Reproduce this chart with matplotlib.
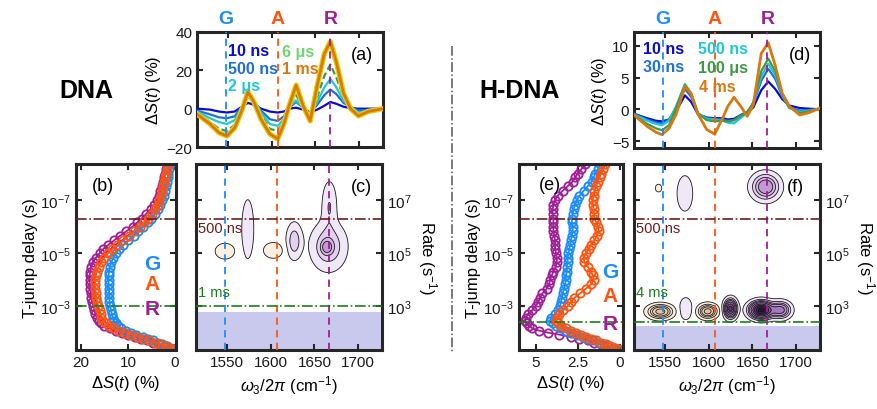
import numpy as np
import matplotlib
matplotlib.use("Agg")
import matplotlib.pyplot as plt
import matplotlib.patheffects as pe
from matplotlib.lines import Line2D
from matplotlib.ticker import NullLocator

plt.rcParams['font.family'] = ['Liberation Sans', 'DejaVu Sans']
plt.rcParams['mathtext.fontset'] = 'custom'
plt.rcParams['mathtext.rm'] = 'Liberation Sans'
plt.rcParams['mathtext.it'] = 'Liberation Sans:italic'
plt.rcParams['mathtext.bf'] = 'Liberation Sans:bold'

W, H = 877, 410

# ---- marker positions (cm-1) ----
mode_names = ["G", "A", "R"]
mode_pos = [1548, 1607, 1667]
mode_colors = ["#1a8cff", "#ff5510", "#a01e96"]

# ---- (a) DNA difference spectra ----
wn_a = [1515, 1530, 1540, 1549, 1558, 1566, 1573, 1580, 1588, 1598, 1607, 1614, 1620,
        1628, 1636, 1644, 1652, 1660, 1667, 1674, 1682, 1690, 1699, 1710, 1727]
dna_labels = ["10 ns", "500 ns", "2 μs", "6 μs", "1 ms"]
dna_10ns = [0, -0.5, -1.5, -2, -1.5, 1, 3, 2, 0, -1.5, -2, -1.5, 0, 0.5, -0.5, -2,
            -0.5, 1.5, 3.5, 2.5, 1, 0.3, 0, 0, 0]
dna_500ns = [-1, -3, -4.5, -5, -4, 1, 6, 4, -1, -5.5, -6.4, -4, 0.5, 3.5, 0.5, -2,
             2, 7, 10, 7.5, 3, 1, -1, -0.5, 0]
dna_2us = [-1.5, -5, -7, -8, -6, 1, 7, 4.5, -2, -8, -9, -5.5, 1, 4.3, 0.5, -3,
           3.5, 11, 15.5, 11, 4, 1, -2, -1, 0]
dna_6us = [-2, -7, -10.5, -11.7, -8.5, 0, 8, 4.5, -3.5, -10.5, -11.7, -7, 2, 7, 1,
           -5.2, 6, 17, 23, 16, 6, 0.5, -3, -1.5, 0]
dna_1ms = [-2.8, -8, -12.5, -14.3, -10, -1, 8.7, 3.4, -5.5, -13.2, -15.8, -8, 1.5,
           12.3, 1.4, -6.4, 12, 28.5, 35, 24, 8, 0, -3.8, -1.5, 0]

# ---- (d) H-DNA difference spectra ----
wn_d = [1515, 1530, 1540, 1547, 1555, 1563, 1573, 1580, 1588, 1598, 1607, 1616, 1622,
        1629, 1638, 1644, 1651, 1660, 1668, 1676, 1684, 1692, 1704, 1715, 1727]
hdna_labels = ["10 ns", "30 ns", "500 ns", "100 μs", "4 ms"]
hdna_10ns = [-0.7, -1.4, -1.8, -1.9, -1.6, -0.3, 2.2, 1.2, -0.8, -1.3, -1.4, -1.4, -1.6,
             -1.5, -0.8, -0.5, 0.3, 3, 4.4, 3.2, 1.6, 0.6, 0.2, 0.1, 0]
hdna_30ns = [-0.7, -1.6, -2.1, -2.2, -1.6, 0.3, 3.2, 2, -0.7, -1.4, -1.5, -1.6, -1.8,
             -1.7, -0.8, -0.4, 0.8, 4.5, 6.4, 4.8, 2, 0.3, -0.2, -0.1, 0.1]
hdna_500ns = [-0.8, -1.8, -2.3, -2.5, -1.8, 0.5, 4, 2.6, -0.6, -1.5, -1.6, -1.8, -2.1,
              -2.2, -1.2, -0.6, 1, 5.2, 7.2, 5.4, 2.2, 0.2, -0.4, -0.2, 0.1]
hdna_100us = [-0.9, -2.3, -3, -3.3, -2.5, 0.2, 3.8, 2.5, -0.7, -1.7, -1.9, -1.8, -1.9,
              -1.7, -0.9, -0.5, 1.1, 6, 8, 6, 2.4, 0.3, -0.6, -0.3, 0.1]
hdna_4ms = [-0.9, -2.7, -3.6, -4, -3.0, -0.8, 3.6, 2.5, -0.8, -3.2, -3.9, -1.4, 0.5,
            1.9, 0.2, -1.1, 0.7, 8.8, 10.5, 6.9, 2.5, 0.5, -0.9, -0.5, 0.2]

spec_colors = ["#0a0ad2", "#1f6fd9", "#1ec8d6", "#3f9a45", "#d9780f"]

# ---- (b)/(e) kinetics at G, A, R ----
delays = [4.5e-9, 7e-9, 1e-8, 1.4e-8, 2e-8, 3e-8, 4.5e-8, 7e-8, 1e-7, 1.5e-7, 2.2e-7,
          3.3e-7, 5e-7, 7e-7, 1e-6, 1.5e-6, 2.2e-6, 3.3e-6, 5e-6, 7e-6, 1e-5, 1.5e-5,
          2.2e-5, 3.3e-5, 5e-5, 7e-5, 1e-4, 1.5e-4, 2.2e-4, 3.3e-4, 5e-4, 7e-4, 1e-3,
          1.4e-3, 2e-3, 2.8e-3, 3.6e-3, 4.5e-3, 5.5e-3, 7e-3, 8.5e-3, 1e-2, 1.2e-2,
          1.45e-2, 1.7e-2, 2e-2, 2.4e-2, 2.8e-2, 3.3e-2, 3.8e-2, 4.3e-2]

dna_G = [1.0, 1.2, 1.4, 1.5, 1.7, 1.9, 2.1, 2.4, 2.7, 3.1, 3.6, 4.2, 5.0, 5.8, 6.7, 7.8,
         8.8, 9.9, 11.0, 11.8, 12.5, 13.1, 13.5, 13.8, 14.0, 14.1, 14.1, 14.1, 14.0, 14.0,
         13.9, 13.9, 13.8, 13.6, 13.4, 13.2, 13.0, 12.6, 12.2, 11.4, 10.4, 9.4, 8.2, 6.9,
         5.8, 4.7, 3.6, 2.7, 1.8, 1.1, 0.5]
dna_A = [1.5, 1.8, 2.0, 2.2, 2.4, 2.6, 2.8, 3.0, 3.3, 3.7, 4.2, 4.9, 5.7, 6.5, 7.4, 8.6,
         9.8, 11.0, 12.3, 13.3, 14.2, 15.0, 15.7, 16.2, 16.6, 16.8, 16.9, 16.9, 16.9, 16.8,
         16.7, 16.5, 16.3, 16.0, 15.8, 15.6, 15.2, 14.7, 14.1, 13.0, 11.8, 10.6, 9.3, 8.0,
         6.8, 5.5, 4.2, 3.1, 2.0, 1.2, 0.5]
dna_R = [1.8, 2.0, 2.2, 2.4, 2.6, 2.8, 3.1, 3.4, 3.8, 4.4, 5.2, 6.1, 7.1, 8.0, 9.0, 10.3,
         11.6, 12.9, 14.2, 15.2, 16.0, 16.8, 17.4, 17.8, 18.0, 18.1, 18.1, 18.1, 18.0, 17.9,
         17.8, 17.6, 17.3, 17.1, 16.9, 16.6, 16.2, 15.7, 15.0, 13.8, 12.5, 11.3, 9.9, 8.5,
         7.3, 6.0, 4.6, 3.4, 2.2, 1.3, 0.6]

hdna_G = [1.15, 1.3, 1.45, 1.55, 1.65, 1.9, 2.15, 2.4, 2.55, 2.65, 2.75, 2.8, 2.85, 2.85,
          2.8, 2.8, 2.85, 2.9, 2.95, 3.0, 3.05, 3.1, 3.1, 3.15, 3.15, 3.2, 3.2, 3.25, 3.3,
          3.4, 3.45, 3.5, 3.55, 3.65, 3.85, 4.1, 4.15, 4.0, 3.8, 3.5, 3.2, 2.9, 2.55, 2.2,
          1.9, 1.6, 1.25, 0.95, 0.65, 0.35, 0.1]
hdna_A = [0.85, 1.0, 1.1, 1.2, 1.3, 1.4, 1.5, 1.55, 1.6, 1.6, 1.55, 1.55, 1.5, 1.4, 1.3,
          1.25, 1.35, 1.5, 1.7, 1.85, 2.0, 2.15, 2.1, 1.9, 1.7, 1.6, 1.55, 1.7, 2.0, 2.35,
          2.7, 2.9, 3.1, 3.35, 3.6, 3.75, 3.8, 3.7, 3.5, 3.2, 2.9, 2.6, 2.3, 2.0, 1.7, 1.4,
          1.1, 0.8, 0.55, 0.3, 0.1]
hdna_R = [2.05, 2.3, 2.5, 2.65, 2.8, 3.1, 3.4, 3.7, 3.85, 3.95, 4.0, 4.0, 3.95, 3.95, 3.95,
          3.95, 3.9, 3.85, 3.85, 3.85, 3.8, 3.75, 3.75, 3.8, 3.95, 4.05, 4.15, 4.2, 4.35,
          4.6, 4.75, 4.85, 5.0, 5.2, 5.45, 5.6, 5.65, 5.55, 5.4, 5.2, 4.8, 4.3, 3.6, 2.9,
          2.4, 1.9, 1.5, 1.1, 0.7, 0.4, 0.1]

# ---- (c)/(f) lifetime maps: blobs (wavenumber, log10 rate, widths, amplitude) ----
c_blob_w = [1548, 1574, 1603, 1627, 1666, 1667, 1664]
c_blob_logr = [5.07, 5.9, 5.1, 5.45, 5.25, 6.8, 5.22]
c_blob_sw = [7.5, 4.6, 7.5, 5.6, 12.5, 5.5, 4.5]
c_blob_sl = [0.2, 0.75, 0.2, 0.42, 0.55, 0.6, 0.18]
c_blob_amp = [-0.3, 0.3, -0.3, 0.45, 0.5, 0.3, 0.45]

f_blob_w = [1543, 1573, 1665, 1545, 1574, 1599, 1625, 1660, 1682]
f_blob_logr = [7.45, 7.25, 7.5, 2.79, 2.9, 2.8, 2.9, 2.85, 2.85]
f_blob_sw = [5, 6.0, 9.6, 8.5, 5.0, 6.5, 4.3, 8, 7]
f_blob_sl = [0.2, 0.45, 0.3, 0.16, 0.28, 0.16, 0.21, 0.19, 0.19]
f_blob_amp = [-0.13, 0.3, 1.0, -1.2, 0.3, -1.2, 2.0, 2.8, 1.2]

dna_marks = [("500 ns", 5e-7, "#6e1b1b"), ("1 ms", 1e-3, "#1b7d1b")]
hdna_marks = [("500 ns", 5e-7, "#6e1b1b"), ("4 ms", 4e-3, "#1b7d1b")]
mark_label_rates = [10 ** 5.94, 10 ** 3.53]
dna_shade_rate = 590
hdna_shade_rate = 180

WLIM = (1515, 1727)
TLIM = (10 ** -1.34, 10 ** -8.36)
RLIM = (10 ** 1.34, 10 ** 8.36)
INK = "#262626"

fig = plt.figure(figsize=(W / 100, H / 100), dpi=100)


def px_axes(x0, y0, x1, y1):
    return fig.add_axes([x0 / W, 1 - y1 / H, (x1 - x0) / W, (y1 - y0) / H])


def ftext(x, y, s, **kw):
    fig.text(x / W, 1 - y / H, s, **kw)


def frame(ax):
    for s in ax.spines.values():
        s.set_linewidth(2.2)
        s.set_color(INK)
    ax.tick_params(direction="in", length=4, width=1.5, top=True, right=True,
                   labelsize=11, color=INK, labelcolor="#1a1a1a")


def spectra(ax, wn, curves, dashed_idx, ylim, yticks, stroke_idx):
    for i, (vals, col) in enumerate(zip(curves, spec_colors)):
        kw = dict(color=col, lw=1.6 if i < 4 else 2.0, zorder=3 + i)
        if i == dashed_idx:
            kw["ls"] = (0, (3, 1.5))
        if i == stroke_idx:
            kw["path_effects"] = [pe.Stroke(linewidth=3.8, foreground="#e6d200"), pe.Normal()]
        ax.plot(wn, vals, **kw)
    for name, m, col in zip(mode_names, mode_pos, mode_colors):
        ax.axvline(m, color=col, lw=1.3, ls=(0, (4, 3)), zorder=10)
        ax.text(m, 1.12, name, color=col, fontsize=14, fontweight="bold",
                ha="center", va="center", transform=ax.get_xaxis_transform())
    ax.set_xlim(*WLIM)
    ax.set_ylim(*ylim)
    ax.set_xticks([1550, 1600, 1650, 1700])
    ax.set_xticklabels([])
    ax.set_yticks(yticks)
    ax.set_ylabel(r"$\Delta S(t)$ (%)", fontsize=12, labelpad=2)
    frame(ax)


def kinetics(ax, curves, xlim, xticks, xticklabels, marks):
    for vals, col in curves:
        ax.plot(vals, delays, "-o", color=col, mfc="none", ms=6, mew=1.3, lw=1.3)
    for _, t, col in marks:
        ax.axhline(t, color=col, lw=1.2, ls="-.", zorder=5)
    ax.set_yscale("log")
    ax.set_ylim(*TLIM)
    ax.set_yticks([1e-7, 1e-5, 1e-3])
    ax.yaxis.set_minor_locator(NullLocator())
    ax.set_xlim(*xlim)
    ax.set_xticks(xticks)
    ax.set_xticklabels(xticklabels)
    ax.set_ylabel("T-jump delay (s)", fontsize=12, labelpad=2)
    ax.set_xlabel(r"$\Delta S(t)$ (%)", fontsize=12, labelpad=3)
    frame(ax)


pos_levels = [0.1, 0.3, 0.5, 0.7, 1.0, 1.4, 1.8, 2.2, 2.6, 3.0, 3.5, 10]
pos_colors = ["#f1e8f7", "#e2d0ee", "#d3b6e2", "#c49ad5", "#a677bd", "#86539d",
              "#63357a", "#432055", "#281032", "#16061c", "#0a000c"]
neg_levels = [-10, -3.5, -3.0, -2.6, -2.2, -1.8, -1.4, -1.0, -0.7, -0.5, -0.3, -0.1]
neg_colors = ["#b07a4a", "#bb8454", "#c68f5f", "#d09b6b", "#d9a878", "#e2b587",
              "#e9c297", "#f0d0aa", "#f5dcbd", "#f9e5cc", "#fdeedd"]


def lifetime_map(ax, bw, bl, bsw, bsl, bamp, marks, shade_rate):
    w = np.linspace(WLIM[0], WLIM[1], 400)
    lr = np.linspace(1.34, 8.36, 400)
    WW, LL = np.meshgrid(w, lr)
    Z = np.zeros_like(WW)
    for w0, l0, sw, sl, a in zip(bw, bl, bsw, bsl, bamp):
        Z += a * np.exp(-0.5 * ((WW - w0) / sw) ** 2 - 0.5 * ((LL - l0) / sl) ** 2)
    RR = 10 ** LL
    ax.contourf(WW, RR, Z, levels=pos_levels, colors=pos_colors, zorder=1)
    ax.contourf(WW, RR, Z, levels=neg_levels, colors=neg_colors, zorder=1)
    ax.contour(WW, RR, Z, levels=neg_levels[1:] + pos_levels[:-1], colors="#1a1a1a",
               linewidths=0.6, linestyles="solid", zorder=2)
    ax.axhspan(RLIM[0], shade_rate, color="#c9c9ee", lw=0, zorder=0.5)
    for name, m, col in zip(mode_names, mode_pos, mode_colors):
        ax.axvline(m, color=col, lw=1.3, ls=(0, (4, 3)), zorder=4)
    for (label, t, col), ry in zip(marks, mark_label_rates):
        ax.axhline(1 / t, color=col, lw=1.2, ls="-.", zorder=5)
        ax.text(1517, ry, label, color=col, fontsize=10.5, ha="left", va="center", zorder=6)
    ax.set_yscale("log")
    ax.set_ylim(*RLIM)
    ax.set_yticks([1e3, 1e5, 1e7])
    ax.yaxis.set_minor_locator(NullLocator())
    ax.set_xlim(*WLIM)
    ax.set_xticks([1550, 1600, 1650, 1700])
    frame(ax)
    ax.tick_params(labelleft=False, labelright=True)
    ax.yaxis.set_label_position("right")
    ax.set_ylabel(r"Rate (s$^{-1}$)", fontsize=12, rotation=-90, labelpad=20)
    ax.set_xlabel(r"$\omega_3/2\pi$ (cm$^{-1}$)", fontsize=12, labelpad=3)


# ---------------- DNA ----------------
ax_a = px_axes(197, 33, 383, 148)
spectra(ax_a, wn_a, [dna_10ns, dna_500ns, dna_2us, dna_6us, dna_1ms], 3,
        (-20, 40), [-20, 0, 20, 40], 4)

ax_b = px_axes(76, 165, 176, 351)
kinetics(ax_b, [(dna_R, mode_colors[2]), (dna_G, mode_colors[0]), (dna_A, mode_colors[1])],
         (21, -0.2), [20, 10, 0], ["20", "10", "0"], dna_marks)

ax_c = px_axes(196, 165, 382, 351)
lifetime_map(ax_c, c_blob_w, c_blob_logr, c_blob_sw, c_blob_sl, c_blob_amp,
             dna_marks, dna_shade_rate)

# ---------------- H-DNA ----------------
ax_d = px_axes(634, 33, 820, 149)
spectra(ax_d, wn_d, [hdna_10ns, hdna_30ns, hdna_500ns, hdna_100us, hdna_4ms], -1,
        (-6.1, 12.2), [-5, 0, 5, 10], -1)

ax_e = px_axes(519, 165, 623, 351)
kinetics(ax_e, [(hdna_R, mode_colors[2]), (hdna_G, mode_colors[0]), (hdna_A, mode_colors[1])],
         (6.0, -0.2), [5, 2.5, 0], ["5", "2.5", "0"], hdna_marks)

ax_f = px_axes(634, 165, 820, 351)
lifetime_map(ax_f, f_blob_w, f_blob_logr, f_blob_sw, f_blob_sl, f_blob_amp,
             hdna_marks, hdna_shade_rate)

# ---------------- annotations ----------------
ftext(86, 91, "DNA", fontsize=18, fontweight="bold", ha="center", va="center")
ftext(520, 91, "H-DNA", fontsize=18, fontweight="bold", ha="center", va="center")

for lbl, x, y in [("(a)", 362, 56), ("(b)", 103, 187), ("(c)", 361, 188),
                  ("(d)", 800, 56), ("(e)", 550, 186), ("(f)", 795, 188)]:
    ftext(x, y, lbl, fontsize=13, ha="center", va="center")

legend_a = [(228, 52), (228, 70), (228, 87), (282, 52), (282, 70)]
legend_a_colors = ["#0a0ad2", "#1f6fd9", "#1ec8d6", "#6fd66f", "#d9780f"]
for (x, y), s, c in zip(legend_a, dna_labels, legend_a_colors):
    ftext(x, y, s, fontsize=11.5, fontweight="bold", color=c, ha="left", va="center")

legend_d = [(643, 50), (643, 68), (698, 50), (698, 68), (699, 88)]
legend_d_colors = ["#0a0ad2", "#1f6fd9", "#1ec8d6", "#3f9a45", "#d9780f"]
for (x, y), s, c in zip(legend_d, hdna_labels, legend_d_colors):
    ftext(x, y, s, fontsize=11.5, fontweight="bold", color=c, ha="left", va="center")

for name, col, yb, ye in zip(mode_names, mode_colors, [264, 285, 310], [272, 297, 325]):
    ftext(152, yb, name, fontsize=15, fontweight="bold", color=col, ha="center", va="center")
    ftext(610, ye, name, fontsize=15, fontweight="bold", color=col, ha="center", va="center")

fig.add_artist(Line2D([452 / W, 452 / W], [1 - 47 / H, 1 - 353 / H], ls="-.",
                      color="#555555", lw=1.1))

fig.savefig("out.png", dpi=100)
